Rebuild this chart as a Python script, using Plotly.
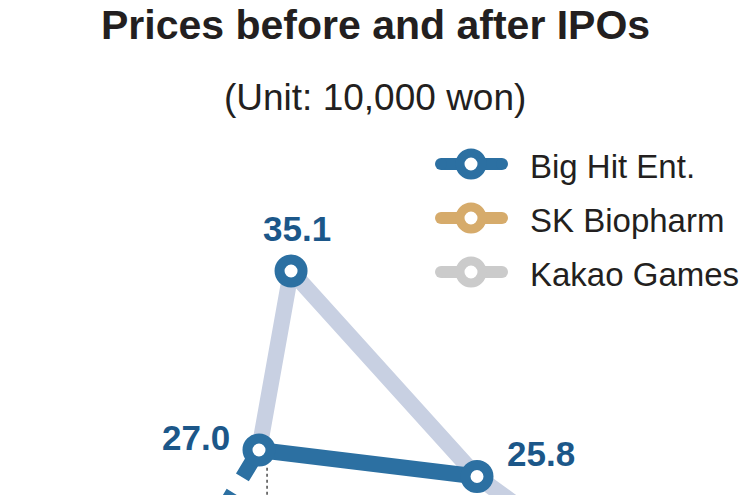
import plotly.graph_objects as go

# ---- data (unit: 10,000 won) ----
point_names = ["IPO price", "Open", "High", "Close", "Next"]
bighit_x = [0.17, 1.0, 1.147, 2.0, 2.28]
bighit_price = [13.5, 27.0, 35.1, 25.8, 23.8]
labelled_points = [1, 2, 3]
guide_x = [1.037, 1.037]
guide_y = [26.2, 20.0]

legend_names = ["Big Hit Ent.", "SK Biopharm", "Kakao Games"]
legend_colors = ["#2c70a2", "#d6ab6b", "#cbcbcb"]

title_text = "Prices before and after IPOs"
subtitle_text = "(Unit: 10,000 won)"

# ---- styles ----
BLUE = "#2c70a2"
LABEL = "#1c5789"
LAV = "#c8d0e2"
INK = "#231f20"
FONT = "Liberation Sans, Arial, Helvetica, sans-serif"
W, H = 750, 495

fig = go.Figure()

# dotted guide line
fig.add_trace(go.Scatter(x=guide_x, y=guide_y, mode="lines",
                         line=dict(color="#555555", width=1.6, dash="dot"),
                         hoverinfo="skip", showlegend=False))
# light intraday path
fig.add_trace(go.Scatter(x=bighit_x[1:], y=bighit_price[1:], mode="lines",
                         line=dict(color=LAV, width=16),
                         hoverinfo="skip", showlegend=False))
# dashed segment back to IPO price
fig.add_trace(go.Scatter(x=bighit_x[1::-1], y=bighit_price[1::-1], mode="lines",
                         line=dict(color=BLUE, width=15, dash="32px,18px"),
                         hoverinfo="skip", showlegend=False))
# solid open -> close
fig.add_trace(go.Scatter(x=[bighit_x[1], bighit_x[3]], y=[bighit_price[1], bighit_price[3]],
                         mode="lines", line=dict(color=BLUE, width=16),
                         hoverinfo="skip", showlegend=False))
# markers
fig.add_trace(go.Scatter(x=[bighit_x[i] for i in labelled_points],
                         y=[bighit_price[i] for i in labelled_points],
                         mode="markers",
                         marker=dict(size=23, color="white", line=dict(color=BLUE, width=10)),
                         hoverinfo="skip", showlegend=False))

# value labels
label_pos = {1: (-27, 13, "right"), 2: (6, 42, "center"), 3: (28, 23, "left")}
for i in labelled_points:
    dx, dy, anc = label_pos[i]
    fig.add_annotation(x=bighit_x[i], y=bighit_price[i], xref="x", yref="y",
                       text=f"<b>{bighit_price[i]:.1f}</b>", showarrow=False,
                       xanchor=anc, yanchor="middle", xshift=dx, yshift=dy,
                       font=dict(family=FONT, size=35, color=LABEL))

# custom legend (pixel-space overlay axes)
leg_y = [164, 218, 272]
for name, col, yc in zip(legend_names, legend_colors, leg_y):
    fig.add_trace(go.Scatter(x=[441, 502], y=[yc, yc], xaxis="x2", yaxis="y2",
                             mode="lines+markers",
                             line=dict(color=col, width=12),
                             marker=dict(size=12, color=col, line=dict(width=0)),
                             hoverinfo="skip", showlegend=False))
    fig.add_trace(go.Scatter(x=[471], y=[yc], xaxis="x2", yaxis="y2",
                             mode="markers",
                             marker=dict(size=22, color="white", line=dict(color=col, width=9)),
                             hoverinfo="skip", showlegend=False))
    fig.add_annotation(x=528, y=yc + 2, xref="x2", yref="y2", text=name, showarrow=False,
                       xanchor="left", yanchor="middle",
                       font=dict(family=FONT, size=33, color=INK))

fig.add_annotation(x=375, y=25, xref="x2", yref="y2", text=f"<b>{title_text}</b>",
                   showarrow=False, xanchor="center", yanchor="middle",
                   font=dict(family=FONT, size=41, color=INK))
fig.add_annotation(x=375, y=97, xref="x2", yref="y2", text=subtitle_text,
                   showarrow=False, xanchor="center", yanchor="middle",
                   font=dict(family=FONT, size=37, color=INK))

# pixel-linear data axes
px_per_unit = 22.1
x_px = 218.0
y_top = bighit_price[1] + 450 / px_per_unit
y_bot = bighit_price[1] - 45 / px_per_unit
x_left = bighit_x[1] - 259 / x_px
x_right = bighit_x[1] + (W - 259) / x_px

fig.update_layout(
    width=W, height=H,
    margin=dict(l=0, r=0, t=0, b=0),
    paper_bgcolor="white", plot_bgcolor="white",
    xaxis=dict(range=[x_left, x_right], visible=False, fixedrange=True),
    yaxis=dict(range=[y_bot, y_top], visible=False, fixedrange=True),
    xaxis2=dict(range=[0, W], visible=False, overlaying="x", anchor="y2"),
    yaxis2=dict(range=[H, 0], visible=False, overlaying="y", anchor="x2"),
    showlegend=False,
)

fig.write_html("out.html", config={"displayModeBar": False},
               post_script="document.body.style.margin='0';document.body.style.overflow='hidden';")
